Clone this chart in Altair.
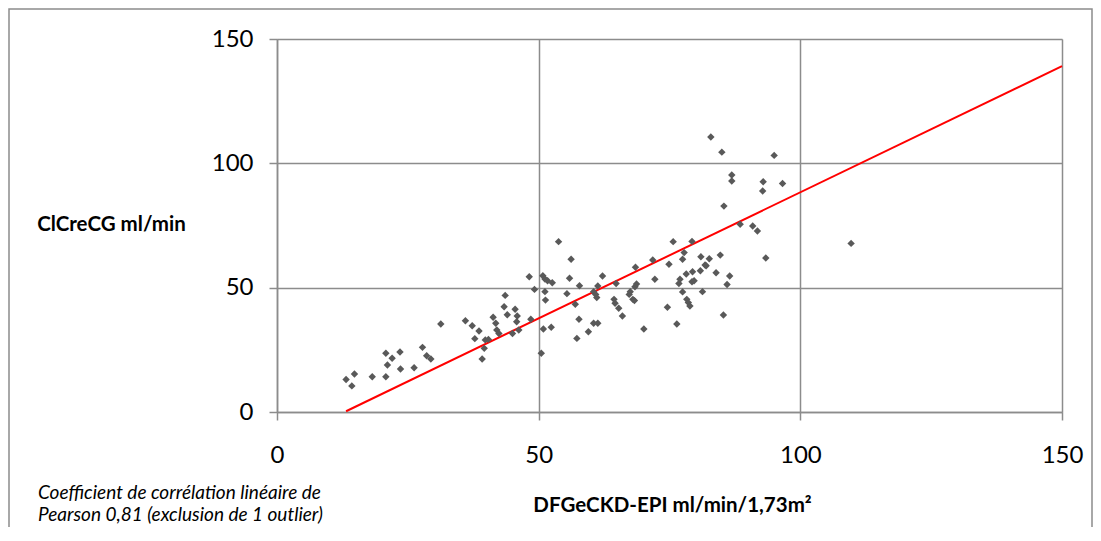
import altair as alt
import pandas as pd

# Scatter data (DFGeCKD-EPI vs ClCreCG)
dfg = [13.2, 14.8, 14.3, 18.2, 20.8, 22.0, 23.5, 21.1, 20.8, 23.6, 26.2, 27.8, 28.6, 29.4,
       39.2, 39.6, 31.3, 36.0, 37.3, 38.6, 37.8, 39.8, 43.6, 43.4, 45.5, 44.0, 45.9, 45.8,
       41.3, 41.8, 42.0, 42.4, 45.0, 46.2, 40.4, 48.5, 49.2, 51.2, 51.3, 50.9, 52.4, 50.5,
       55.4, 57.8, 57.0, 57.7, 59.5, 60.5, 61.3, 57.3, 53.8, 56.2, 48.2, 50.8, 51.2, 51.7,
       52.6, 55.9, 62.2, 61.3, 60.5, 60.9, 61.1, 64.8, 64.4, 64.6, 65.3, 66.0, 67.5, 67.3,
       68.0, 68.3, 68.4, 68.7, 68.5, 70.1, 71.8, 72.2, 74.6, 74.9, 75.7, 76.4, 76.8, 77.0,
       77.5, 77.5, 77.8, 78.2, 78.3, 78.6, 78.9, 79.3, 79.4, 79.3, 79.7, 80.9, 81.0, 81.8,
       81.3, 82.6, 83.9, 84.7, 82.0, 86.5, 86.0, 85.3, 91.8, 93.4, 109.7, 95.0, 92.9, 92.8,
       96.6, 88.5, 90.9, 82.9, 85.0, 86.9, 86.9, 85.4]
clcre = [13.1, 15.3, 10.5, 14.2, 23.6, 21.6, 24.1, 18.9, 14.2, 17.3, 17.8, 26.0, 22.6, 21.3,
         21.3, 25.6, 35.4, 36.7, 34.7, 32.6, 29.5, 29.0, 46.9, 42.3, 41.3, 39.1, 38.6, 36.3,
         38.1, 35.7, 33.0, 31.6, 31.6, 33.0, 29.2, 37.3, 49.3, 48.4, 45.0, 33.4, 34.1, 23.6,
         47.6, 50.8, 43.3, 37.3, 32.3, 35.7, 35.7, 29.6, 68.5, 61.4, 54.4, 54.8, 53.5, 52.8,
         52.0, 53.8, 54.7, 50.7, 48.4, 47.3, 46.0, 51.7, 45.3, 43.7, 41.7, 38.6, 48.4, 47.3,
         45.3, 44.8, 50.4, 51.5, 58.2, 33.4, 61.1, 53.4, 42.1, 59.4, 68.5, 35.4, 51.7, 53.4,
         48.3, 61.4, 64.1, 55.5, 45.3, 44.0, 42.6, 68.6, 56.4, 52.4, 52.8, 56.8, 62.4, 59.1,
         48.4, 61.6, 56.0, 63.1, 58.8, 54.7, 51.3, 39.0, 72.8, 61.9, 67.8, 103.2, 92.6, 88.9,
         91.9, 75.5, 74.8, 110.6, 104.5, 95.3, 92.9, 82.8]

# Linear fit line endpoints
fit_x = [13.2, 150.0]
fit_y = [0.3, 139.1]

ticks = [0, 50, 100, 150]
x_title = "DFGeCKD-EPI ml/min/1,73m²"
y_title = "ClCreCG ml/min"
note_lines = ["Coefficient de corrélation linéaire de", "Pearson 0,81 (exclusion de 1 outlier)"]

FONT = "Lato"
GRID = "#8c8c8c"

pts = pd.DataFrame({"x": dfg, "y": clcre})
fit = pd.DataFrame({"x": fit_x, "y": fit_y})

xscale = alt.Scale(domain=[0, 150], nice=False, zero=False)
yscale = alt.Scale(domain=[0, 150], nice=False, zero=False)

xaxis = alt.Axis(values=ticks, title=x_title, grid=True, gridColor=GRID, gridWidth=1.5,
                 domainColor=GRID, domainWidth=1.5, tickColor=GRID, tickWidth=1.5, tickSize=8,
                 labelFont=FONT, labelFontSize=24, labelColor="#000000", labelPadding=23,
                 labelFlush=False,
                 titleFont=FONT, titleFontSize=20.5, titleFontWeight="bold", titleColor="#000000",
                 titleBaseline="middle", titleY=93, titleX=395)
yaxis = alt.Axis(values=ticks, title=y_title, grid=True, gridColor=GRID, gridWidth=1.5,
                 domainColor=GRID, domainWidth=1.5, tickColor=GRID, tickWidth=1.5, tickSize=8,
                 labelFont=FONT, labelFontSize=24, labelColor="#000000", labelPadding=16,
                 labelFlush=False,
                 titleFont=FONT, titleFontSize=20.5, titleFontWeight="bold", titleColor="#000000",
                 titleAngle=0, titleAlign="center", titleBaseline="middle", titleX=-166, titleY=185)

points = alt.Chart(pts).mark_point(shape="diamond", filled=True, size=55, opacity=1,
                                   color="#595959").encode(
    x=alt.X("x:Q", scale=xscale, axis=xaxis),
    y=alt.Y("y:Q", scale=yscale, axis=yaxis),
)

line = alt.Chart(fit).mark_line(color="#ff0000", strokeWidth=2).encode(
    x=alt.X("x:Q", scale=xscale),
    y=alt.Y("y:Q", scale=yscale),
)

note = alt.Chart(pd.DataFrame({"t": [0]})).mark_text(
    align="left", baseline="middle", font=FONT, fontSize=19, fontStyle="italic",
    color="#000000", lineHeight=22,
).encode(x=alt.value(-239), y=alt.value(454), text=alt.value(note_lines))

frame = alt.Chart(pd.DataFrame({"t": [0]})).mark_rect(
    fill=None, stroke=GRID, strokeWidth=1.5
).encode(x=alt.value(-268), x2=alt.value(815), y=alt.value(-30), y2=alt.value(520))

chart = alt.layer(frame, line, points, note).properties(
    width=785, height=373,
    autosize=alt.AutoSizeParams(type="none"),
    padding={"left": 269, "top": 31, "right": 31, "bottom": 115},
).configure_view(stroke=None).configure(background="white")

chart.save("out.html", embed_options={"renderer": "svg", "actions": False})
